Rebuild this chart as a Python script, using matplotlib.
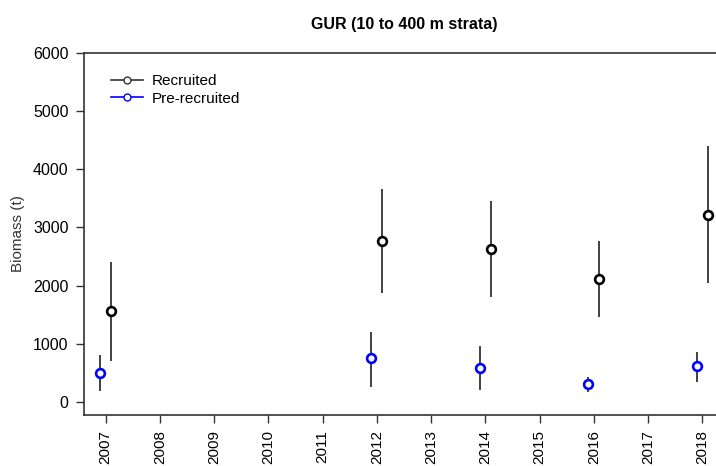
import matplotlib
matplotlib.use("Agg")
import matplotlib.pyplot as plt
from matplotlib.lines import Line2D

plt.rcParams['font.family'] = ['Liberation Sans', 'DejaVu Sans']

years = [2007, 2008, 2009, 2010, 2011, 2012, 2013, 2014, 2015, 2016, 2017, 2018]
survey_years = [2007, 2012, 2014, 2016, 2018]

rec_mean = [1560, 2770, 2630, 2120, 3220]
rec_lo = [710, 1880, 1810, 1460, 2050]
rec_hi = [2400, 3670, 3450, 2770, 4395]

pre_mean = [500, 750, 590, 310, 620]
pre_lo = [190, 260, 200, 170, 340]
pre_hi = [800, 1210, 970, 430, 865]

offset = 0.1

W, H = 716, 466
fig = plt.figure(figsize=(W / 100, H / 100), dpi=100)
ax = fig.add_axes([84 / W, 1 - 415 / H, (724 - 84) / W, (415 - 53) / H])

for yrs, m, lo, hi, col, off in [
    (survey_years, rec_mean, rec_lo, rec_hi, 'black', offset),
    (survey_years, pre_mean, pre_lo, pre_hi, 'blue', -offset),
]:
    xs = [y + off for y in yrs]
    ax.vlines(xs, lo, hi, color='#333333', lw=1.3, zorder=2)
    ax.plot(xs, m, ls='none', marker='o', ms=6.3, mfc='white', mec=col, mew=1.9, zorder=3)

ax.set_xlim(2006.6, 2018.4)
ax.set_ylim(-224, 6000)
ax.set_xticks(years)
ax.set_xticklabels([str(y) for y in years], rotation=90, fontsize=11)
ax.set_yticks([0, 1000, 2000, 3000, 4000, 5000, 6000])
ax.tick_params(axis='both', direction='out', length=6, width=1, color='#333333')
ax.tick_params(axis='x', pad=5, labelsize=11)
ax.tick_params(axis='y', pad=5, labelsize=11.5)
ax.spines['right'].set_visible(False)
for s in ['left', 'bottom', 'top']:
    ax.spines[s].set_color('#333333')
    ax.spines[s].set_linewidth(1.2)

ax.set_ylabel('Biomass (t)', fontsize=11, color='#333333', labelpad=6)
fig.text(404 / W, 1 - 25 / H, 'GUR (10 to 400 m strata)', ha='center', va='center',
         fontsize=11.5, fontweight='bold')

handles = [
    Line2D([0], [0], color='#333333', lw=1.2, marker='o', ms=5, mfc='white', mec='#333333', mew=1),
    Line2D([0], [0], color='blue', lw=1.2, marker='o', ms=5, mfc='white', mec='blue', mew=1),
]
ax.legend(handles, ['Recruited', 'Pre-recruited'], loc='upper left', bbox_to_anchor=(0.02, 0.98),
          frameon=False, fontsize=11, handlelength=2.1, handletextpad=0.6, labelspacing=0.25)

fig.savefig('out.png', dpi=100)
